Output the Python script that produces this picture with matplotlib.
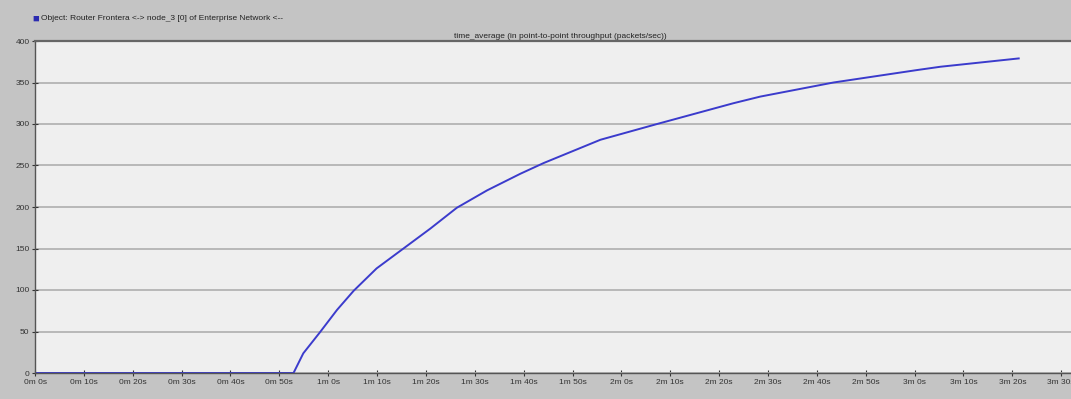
import numpy as np
import matplotlib.pyplot as plt

plt.rcParams['font.family'] = ['Liberation Sans Narrow', 'Liberation Sans', 'DejaVu Sans']

# time (s) and time_average throughput (packets/sec)
t_sec = [0, 10, 20, 30, 40, 50, 52.9, 54.9, 58.3, 61.8, 65.2, 69.9, 75.4,
         80.9, 86.3, 92.5, 99.3, 104.1, 115.7, 127.3, 142.9, 148.4, 163.4,
         180.5, 185.3, 201.3]
thru = [0, 0, 0, 0, 0, 0, 0, 23.7, 49, 76, 99, 126, 150,
        174, 199, 220, 240, 253, 281, 300, 325, 333, 350,
        365, 369, 379]

xticks = np.arange(0, 220, 10)
xlabels = ['%dm %ds' % (s // 60, s % 60) for s in xticks]
yticks = [0, 50, 100, 150, 200, 250, 300, 350, 400]

legend_txt = 'Object: Router Frontera <-> node_3 [0] of Enterprise Network <--'
title_txt = 'time_average (in point-to-point throughput (packets/sec))'

fig = plt.figure(figsize=(10.71, 3.99), dpi=100, facecolor='#c4c4c4')
ax = fig.add_axes([35 / 1071, 26 / 399, 1 - 35 / 1071, 332 / 399])
ax.set_facecolor('#efefef')

ax.plot(t_sec, thru, color='#3b3bcc', lw=1.4)

ax.set_xlim(0, 212)
ax.set_ylim(0, 400)
ax.set_xticks(xticks)
ax.set_xticklabels(xlabels)
ax.set_yticks(yticks)
ax.tick_params(labelsize=6, colors='#333333', direction='inout', length=4, width=0.8, pad=2)
ax.grid(axis='y', color='#b4b4b4', lw=1.3)
ax.set_axisbelow(True)

for s in ['left', 'bottom']:
    ax.spines[s].set_color('#555555')
    ax.spines[s].set_linewidth(1.0)
ax.spines['top'].set_color('#666666')
ax.spines['top'].set_linewidth(1.6)
ax.spines['right'].set_visible(False)

ax.set_title(title_txt, fontsize=6, color='#222222', pad=2, x=(560 - 35) / (1071 - 35))

fig.text(32 / 1071, 1 - 19 / 399, '\u25a0', color='#2b2bb0', fontsize=8, va='center')
fig.text(41 / 1071, 1 - 19 / 399, legend_txt, fontsize=6, color='#222222', va='center')

fig.savefig('out.png', dpi=100, facecolor=fig.get_facecolor())
